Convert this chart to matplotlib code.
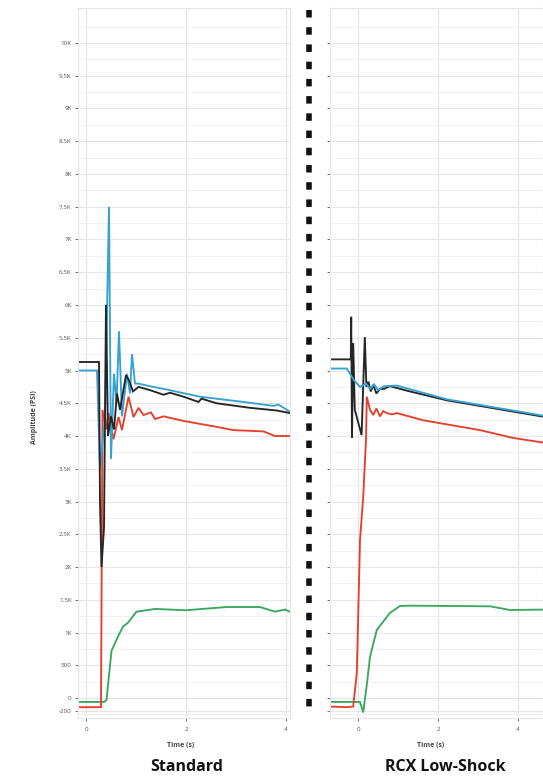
import matplotlib.pyplot as plt
from matplotlib.lines import Line2D

plt.rcParams['font.family'] = ['Open Sans', 'DejaVu Sans']

# DATA - Standard (left)

std_black_t = [-0.16, 0.26, 0.28, 0.31, 0.36, 0.40, 0.44, 0.50, 0.56, 0.62, 0.68, 0.80, 0.86, 0.94,
               1.05, 1.28, 1.55, 1.68, 1.95, 2.25, 2.31, 2.61, 3.28, 3.81, 4.08]
std_black_v = [5130, 5130, 3000, 2000, 2600, 6000, 4000, 4300, 4100, 4650, 4400, 4930, 4850, 4680,
               4750, 4700, 4630, 4660, 4600, 4520, 4570, 4500, 4430, 4390, 4350]

std_blue_t = [-0.16, 0.22, 0.28, 0.38, 0.46, 0.50, 0.56, 0.61, 0.66, 0.72, 0.82, 0.88, 0.92,
              0.98, 1.05, 1.28, 1.61, 2.28, 3.15, 3.75, 3.85, 4.08]
std_blue_v = [5000, 5000, 3500, 4300, 7500, 3650, 4950, 4500, 5600, 4300, 4950, 4650, 5250,
              4800, 4800, 4760, 4710, 4600, 4520, 4460, 4480, 4370]

std_red_t = [-0.16, 0.30, 0.33, 0.40, 0.45, 0.55, 0.65, 0.72, 0.85, 0.95, 1.05, 1.15, 1.30,
             1.38, 1.55, 1.95, 2.61, 2.95, 3.55, 3.78, 4.08]
std_red_v = [-140, -140, 4400, 4100, 4350, 3950, 4290, 4090, 4600, 4290, 4430, 4320, 4360,
             4260, 4300, 4230, 4140, 4090, 4070, 4000, 4000]

std_green_t = [-0.16, 0.36, 0.41, 0.51, 0.64, 0.74, 0.84, 1.01, 1.38, 2.00, 2.81, 3.48, 3.78, 3.98, 4.08]
std_green_v = [-60, -60, -30, 720, 940, 1090, 1150, 1318, 1360, 1340, 1389, 1389, 1318, 1350, 1318]

# DATA - RCX Low-Shock (right)

rcx_black_t = [-0.70, -0.18, -0.17, -0.15, -0.12, -0.08, 0.09, 0.17, 0.21, 0.26, 0.32, 0.38,
               0.46, 0.55, 0.65, 0.80, 1.30, 2.22, 4.63]
rcx_black_v = [5170, 5170, 5820, 3970, 5420, 4400, 4015, 5510, 4750, 4830, 4680, 4780,
               4650, 4720, 4720, 4760, 4680, 4545, 4295]

rcx_blue_t = [-0.70, -0.28, -0.10, 0.05, 0.20, 0.30, 0.40, 0.50, 0.65, 0.97, 2.22, 4.63]
rcx_blue_v = [5030, 5030, 4850, 4750, 4800, 4720, 4790, 4700, 4760, 4770, 4560, 4310]

rcx_red_t = [-0.70, -0.30, -0.12, -0.03, 0.05, 0.13, 0.20, 0.22, 0.30, 0.38, 0.46, 0.55,
             0.63, 0.72, 0.85, 0.97, 1.63, 3.05, 3.88, 4.63]
rcx_red_v = [-130, -140, -130, 380, 2410, 3070, 3940, 4600, 4400, 4320, 4420, 4300,
             4380, 4350, 4330, 4350, 4240, 4090, 3970, 3900]

rcx_green_t = [-0.70, 0.05, 0.13, 0.22, 0.30, 0.47, 0.80, 1.05, 1.30, 3.30, 3.80, 4.63]
rcx_green_v = [-60, -60, -220, 200, 630, 1040, 1300, 1405, 1410, 1400, 1344, 1350]

y_ticks = [-200, 0, 500, 1000, 1500, 2000, 2500, 3000, 3500, 4000, 4500, 5000, 5500,
           6000, 6500, 7000, 7500, 8000, 8500, 9000, 9500, 10000]
y_labels = ['-200', '0', '500', '1K', '1.5K', '2K', '2.5K', '3K', '3.5K', '4K', '4.5K', '5K',
            '5.5K', '6K', '6.5K', '7K', '7.5K', '8K', '8.5K', '9K', '9.5K', '10K']
x_ticks = [0, 2, 4]

BLACK = '#252525'
BLUE = '#35a2d4'
RED = '#e5402d'
GREEN = '#3aa85e'

W, H = 543, 784
fig = plt.figure(figsize=(W / 100, H / 100), dpi=100)


def frac(px_x, px_y):
    return px_x / W, 1 - px_y / H


def setup(ax, xlim, show_y):
    ax.set_xlim(*xlim)
    ax.set_ylim(-305, 10534)
    ax.set_xticks(x_ticks)
    ax.set_xticklabels([str(t) for t in x_ticks])
    ax.set_yticks(y_ticks)
    ax.set_yticks(range(-250, 10500, 250), minor=True)
    if show_y:
        ax.set_yticklabels(y_labels)
    else:
        ax.set_yticklabels([])
        ax.tick_params(axis='y', length=0)
    ax.tick_params(axis='both', which='major', labelsize=4.5, colors='#555555',
                   length=2.5, width=0.6, pad=2)
    ax.tick_params(axis='y', which='minor', length=0)
    ax.tick_params(axis='x', pad=4)
    ax.grid(True, which='major', color='#e6e6e6', linewidth=0.8)
    ax.grid(True, which='minor', axis='y', color='#f1f1f1', linewidth=0.7)
    ax.set_axisbelow(True)
    for s in ax.spines.values():
        s.set_color('#e6e6e6')
        s.set_linewidth(0.8)


def draw(ax, series):
    for t, v, c in series:
        ax.plot(t, v, color=c, linewidth=1.35, solid_joinstyle='miter')


ax1 = fig.add_axes([78 / W, 66 / H, 212 / W, 710 / H])
setup(ax1, (-0.16, 4.08), True)
draw(ax1, [(std_green_t, std_green_v, GREEN),
           (std_red_t, std_red_v, RED),
           (std_blue_t, std_blue_v, BLUE),
           (std_black_t, std_black_v, BLACK)])

ax2 = fig.add_axes([330 / W, 66 / H, 213 / W, 710 / H])
setup(ax2, (-0.70, 4.625), False)
draw(ax2, [(rcx_green_t, rcx_green_v, GREEN),
           (rcx_red_t, rcx_red_v, RED),
           (rcx_black_t, rcx_black_v, BLACK),
           (rcx_blue_t, rcx_blue_v, BLUE)])

# dashed divider
x0, y0 = frac(309, 10)
_, y1 = frac(309, 716)
fig.add_artist(Line2D([x0, x0], [y0, y1], transform=fig.transFigure, color='#111111',
                      linewidth=4.0, dashes=(1.35, 1.75), solid_capstyle='butt',
                      dash_capstyle='butt'))

# labels
fig.text(*frac(181, 746), 'Time (s)', fontsize=5, fontweight='bold', color='#444444',
         ha='center', va='center')
fig.text(*frac(431, 746), 'Time (s)', fontsize=5, fontweight='bold', color='#444444',
         ha='center', va='center')
fig.text(*frac(35, 417), 'Amplitude (PSI)', fontsize=5, fontweight='bold', color='#444444',
         ha='center', va='center', rotation=90)

fig.text(*frac(187, 767), 'Standard', fontsize=11.5, fontweight='bold', color='#111111',
         ha='center', va='center')
fig.text(*frac(445, 767), 'RCX Low-Shock', fontsize=11.5, fontweight='bold', color='#111111',
         ha='center', va='center')

fig.savefig('out.png', dpi=100)
